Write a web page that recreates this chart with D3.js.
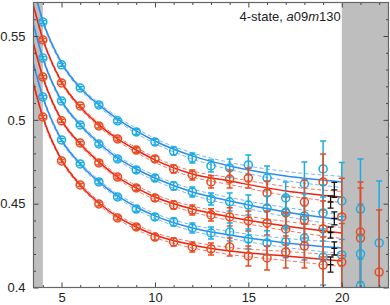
<!DOCTYPE html>
<html>
<head>
<meta charset="utf-8">
<script src="https://cdn.jsdelivr.net/npm/d3@7/dist/d3.min.js"></script>
<style>
    body { margin: 0; background: #fff; }
    text { font-family: 'Liberation Sans', Arial, sans-serif; }
</style>
</head>
<body>
<svg id="chart" width="390" height="305"></svg>
<script>
// time slices of the data points
const tPts = [4, 5, 6, 7, 8, 9, 10, 11, 12, 13, 14, 15, 16, 17, 18, 19, 20, 21, 22];

// data points, top curve first (null = not on the picture)
const ptsBlue1 = [0.5584, 0.5328, 0.5190, 0.5089, 0.4994, 0.4928, 0.4868, 0.4814, 0.4773, 0.4725, 0.4713, 0.4731, 0.4653, 0.4534, 0.4618, 0.4707, 0.4516, 0.4468, null];
const ptsRed1 = [0.5477, 0.5220, 0.5083, 0.4964, 0.4886, 0.4820, 0.4767, 0.4707, 0.4671, 0.4630, 0.4647, 0.4653, 0.4564, 0.4445, 0.4510, 0.4630, 0.4421, 0.4331, null];
const ptsBlue2 = [0.5369, 0.5113, 0.4970, 0.4856, 0.4767, 0.4701, 0.4653, 0.4606, 0.4570, 0.4528, 0.4510, 0.4492, 0.4474, 0.4450, 0.4427, 0.4445, null, 0.4200, 0.4266];
const ptsRed2 = [0.5256, 0.4994, 0.4862, 0.4743, 0.4659, 0.4594, 0.4534, 0.4492, 0.4462, 0.4433, 0.4421, 0.4397, 0.4385, 0.4349, 0.4403, 0.4349, null, 0.4295, null];
const ptsBlue3 = [0.5137, 0.4880, 0.4737, 0.4630, 0.4540, 0.4468, 0.4421, 0.4391, 0.4355, 0.4325, 0.4331, 0.4289, 0.4266, 0.4272, 0.4295, 0.4182, 0.4194, 0.4009, null];
const ptsRed3 = [0.5017, 0.4755, 0.4612, 0.4498, 0.4415, 0.4361, 0.4301, 0.4272, 0.4242, 0.4230, 0.4242, 0.4188, 0.4176, 0.4212, 0.4248, 0.4134, 0.4152, null, 0.4092];

// error of the points at each time slice
const errPts = [0.0009, 0.0009, 0.0009, 0.0012, 0.0012, 0.0015, 0.0018, 0.0024, 0.0030, 0.0036, 0.0054, 0.0060, 0.0072, 0.0095, 0.0131, 0.0167, 0.0230, 0.0298, 0.0370];

// fit curves, given at these times
const tFit = [3.5, 4, 5, 6, 7, 8, 9, 10, 12, 14, 17, 20];
const fitBlue1 = [0.5787, 0.5590, 0.5340, 0.5190, 0.5089, 0.5005, 0.4934, 0.4874, 0.4785, 0.4725, 0.4665, 0.4630];
const fitRed1 = [0.5680, 0.5483, 0.5226, 0.5077, 0.4970, 0.4886, 0.4820, 0.4761, 0.4677, 0.4635, 0.4576, 0.4540];
const fitBlue2 = [0.5566, 0.5369, 0.5113, 0.4970, 0.4862, 0.4773, 0.4707, 0.4653, 0.4570, 0.4516, 0.4450, 0.4403];
const fitRed2 = [0.5453, 0.5256, 0.4999, 0.4856, 0.4749, 0.4659, 0.4594, 0.4540, 0.4468, 0.4421, 0.4367, 0.4325];
const fitBlue3 = [0.5334, 0.5137, 0.4880, 0.4737, 0.4630, 0.4546, 0.4480, 0.4427, 0.4355, 0.4313, 0.4266, 0.4236];
const fitRed3 = [0.5214, 0.5017, 0.4761, 0.4612, 0.4504, 0.4421, 0.4361, 0.4313, 0.4254, 0.4218, 0.4188, 0.4158];
// half width of the fit error band
const fitBand = [0.0009, 0.0009, 0.0009, 0.0009, 0.0012, 0.0012, 0.0015, 0.0015, 0.0018, 0.0021, 0.0027, 0.0033];

// black bars (extrapolated values)
const extT = [19.6, 19.4, 19.6, 19.4, 19.6, 19.4];
const extVal = [0.4582, 0.4510, 0.4412, 0.4328, 0.4233, 0.4137];
const extErr = [0.0045, 0.0036, 0.0039, 0.0033, 0.0039, 0.0045];

// excluded time ranges (grey)
const greyBands = [[3.5, 4], [20, 22.5]];

// ticks
const xMajor = [5, 10, 15, 20];
const xMinor = [4, 6, 7, 8, 9, 11, 12, 13, 14, 16, 17, 18, 19, 21, 22];
const yMajor = [0.4, 0.45, 0.5, 0.55];
const yMinor = [0.41, 0.42, 0.43, 0.44, 0.46, 0.47, 0.48, 0.49, 0.51, 0.52, 0.53, 0.54, 0.56];

const title = '4-state, ';

const blue = { line: '#2a8cf0', dash: '#78b6f2', pt: '#1cace4' };
const red = { line: '#f2200c', dash: '#f47868', pt: '#ea4a1e' };

const pLeft = 33.5, pRight = 388.5, pTop = 2.5, pBottom = 287.5;
const x = d3.scaleLinear().domain([3.5, 22.5]).range([pLeft, pRight]);
const y = d3.scaleLinear().domain([0.4, 0.57]).range([pBottom, pTop]);

const svg = d3.select('#chart');

svg.append('clipPath')
    .attr('id', 'plotClip')
    .append('rect')
    .attr('x', pLeft)
    .attr('y', pTop)
    .attr('width', pRight - pLeft)
    .attr('height', pBottom - pTop);

let plot = svg.append('g').attr('clip-path', 'url(#plotClip)');

// grey bands
plot.selectAll('rect.band')
    .data(greyBands)
    .enter()
    .append('rect')
    .attr('class', 'band')
    .attr('x', (d) => x(d[0]))
    .attr('y', pTop)
    .attr('width', (d) => x(d[1]) - x(d[0]))
    .attr('height', pBottom - pTop)
    .attr('fill', '#bebebe');

const series = [
    { pts: ptsBlue1, fit: fitBlue1, col: blue },
    { pts: ptsRed1, fit: fitRed1, col: red },
    { pts: ptsBlue2, fit: fitBlue2, col: blue },
    { pts: ptsRed2, fit: fitRed2, col: red },
    { pts: ptsBlue3, fit: fitBlue3, col: blue },
    { pts: ptsRed3, fit: fitRed3, col: red },
];

const line = d3
    .line()
    .x((d) => x(d.t))
    .y((d) => y(d.v))
    .curve(d3.curveMonotoneX);

// fit bands (dashed) and central fit lines
series.forEach((s) => {
    for (let sign of [-1, 1]) {
        plot.append('path')
            .datum(tFit.map((t, i) => ({ t: t, v: s.fit[i] + sign * fitBand[i] })))
            .attr('d', line)
            .attr('fill', 'none')
            .attr('stroke', s.col.dash)
            .attr('stroke-width', 1)
            .attr('stroke-dasharray', '4,2.5');
    }
});
series.forEach((s) => {
    plot.append('path')
        .datum(tFit.map((t, i) => ({ t: t, v: s.fit[i] })))
        .attr('d', line)
        .attr('fill', 'none')
        .attr('stroke', s.col.line)
        .attr('stroke-width', 1.5);
});

// data points with error bars
series.forEach((s) => {
    let data = [];
    for (let i = 0; i < tPts.length; i++) {
        if (s.pts[i] == null) continue;
        data.push({ t: tPts[i], v: s.pts[i], e: errPts[i] });
    }
    let g = plot.append('g').attr('stroke', s.col.pt).attr('fill', 'none').attr('stroke-width', 1.5);
    g.selectAll('line.bar')
        .data(data)
        .enter()
        .append('line')
        .attr('x1', (d) => x(d.t))
        .attr('x2', (d) => x(d.t))
        .attr('y1', (d) => y(d.v - d.e))
        .attr('y2', (d) => y(d.v + d.e));
    for (let sign of [-1, 1]) {
        g.selectAll('line.cap' + sign)
            .data(data)
            .enter()
            .append('line')
            .attr('x1', (d) => x(d.t) - 3)
            .attr('x2', (d) => x(d.t) + 3)
            .attr('y1', (d) => y(d.v + sign * d.e))
            .attr('y2', (d) => y(d.v + sign * d.e));
    }
    g.selectAll('circle')
        .data(data)
        .enter()
        .append('circle')
        .attr('cx', (d) => x(d.t))
        .attr('cy', (d) => y(d.v))
        .attr('r', 4);
});

// black extrapolation bars
const ext = extT.map((t, i) => ({ t: t, v: extVal[i], e: extErr[i] }));
let eg = plot.append('g').attr('stroke', '#111').attr('stroke-width', 1.3);
eg.selectAll('line.v')
    .data(ext)
    .enter()
    .append('line')
    .attr('x1', (d) => x(d.t))
    .attr('x2', (d) => x(d.t))
    .attr('y1', (d) => y(d.v - d.e))
    .attr('y2', (d) => y(d.v + d.e));
for (let k of [-1, 0, 1]) {
    eg.selectAll('line.h' + (k + 1))
        .data(ext)
        .enter()
        .append('line')
        .attr('x1', (d) => x(d.t) - 3)
        .attr('x2', (d) => x(d.t) + 3)
        .attr('y1', (d) => y(d.v + k * d.e))
        .attr('y2', (d) => y(d.v + k * d.e));
}

// axes: ticks point inwards on all four sides
function addAxis(axis, transform, size, values, labels, pad) {
    let a = axis.tickValues(values).tickSize(-size).tickPadding(pad || 8);
    if (!labels) a.tickFormat('');
    else a.tickFormat((d) => String(d));
    let g = svg.append('g').attr('transform', transform).call(a);
    g.select('.domain').remove();
    g.selectAll('line').attr('stroke', '#444');
    g.selectAll('text').attr('font-size', '13px').attr('fill', '#222');
    return g;
}
addAxis(d3.axisBottom(x), `translate(0,${pBottom})`, 5, xMajor, true, 5.5);
addAxis(d3.axisBottom(x), `translate(0,${pBottom})`, 2.5, xMinor, false);
addAxis(d3.axisTop(x), `translate(0,${pTop})`, 5, xMajor, false);
addAxis(d3.axisTop(x), `translate(0,${pTop})`, 2.5, xMinor, false);
addAxis(d3.axisLeft(y), `translate(${pLeft},0)`, 5, yMajor, true);
addAxis(d3.axisLeft(y), `translate(${pLeft},0)`, 2.5, yMinor, false);
addAxis(d3.axisRight(y), `translate(${pRight},0)`, 5, yMajor, false);
addAxis(d3.axisRight(y), `translate(${pRight},0)`, 2.5, yMinor, false);

// frame
svg.append('rect')
    .attr('x', pLeft)
    .attr('y', pTop)
    .attr('width', pRight - pLeft)
    .attr('height', pBottom - pTop)
    .attr('fill', 'none')
    .attr('stroke', '#666')
    .attr('stroke-width', 1.2);

// label in the top right corner
let label = svg.append('text')
    .attr('x', x(20) - 1)
    .attr('y', 21)
    .attr('text-anchor', 'end')
    .attr('font-size', '13px')
    .attr('fill', '#222');
label.append('tspan').text(title);
label.append('tspan').attr('font-style', 'italic').text('a');
label.append('tspan').text('09');
label.append('tspan').attr('font-style', 'italic').text('m');
label.append('tspan').text('130');
</script>
</body>
</html>
